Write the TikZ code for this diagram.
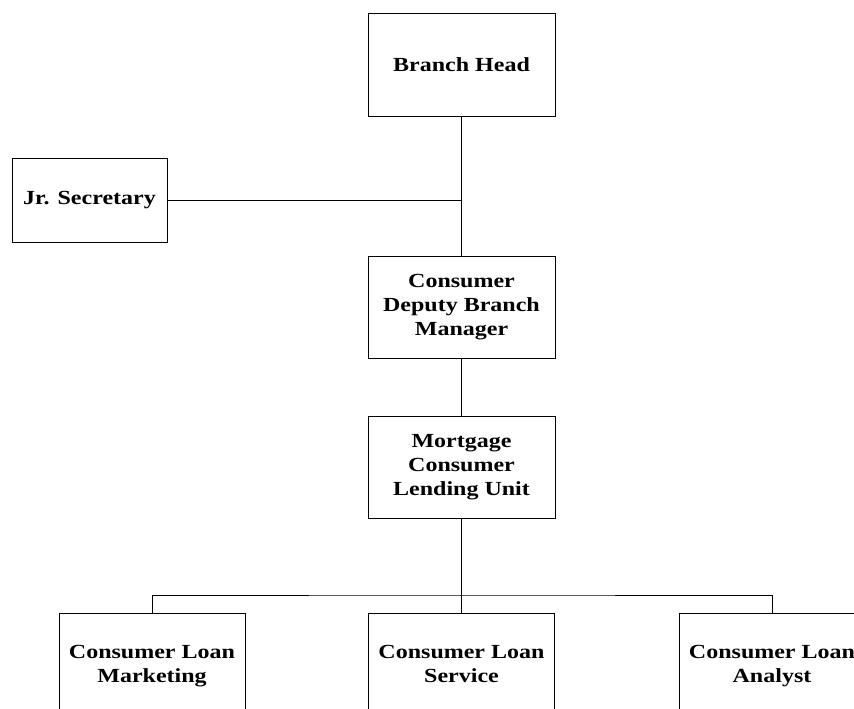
\documentclass[tikz,border=0pt]{standalone}
\usepackage{fontspec}
\setmainfont{Liberation Serif}[FakeStretch=1.2]
\begin{document}
\begin{tikzpicture}[x=1pt,y=-1pt,
  box/.style={draw=black,line width=0.9pt,fill=white,align=center,inner sep=0pt,
    font=\fontsize{20}{24}\selectfont\bfseries},
  conn/.style={draw=black,line width=0.9pt}]
\useasboundingbox (0,0) rectangle (854,709);
\clip (0,0) rectangle (854,709);
\fill[white] (0,0) rectangle (854,709);
\node[box,minimum width=187pt,minimum height=103pt] (bh) at (461.5,64.5) {Branch Head};
\node[box,minimum width=155pt,minimum height=84pt] (js) at (89.5,200) {Jr. Secretary};
\node[box,minimum width=187pt,minimum height=102pt] (dm) at (461.5,307) {Consumer\\Deputy Branch\\Manager};
\node[box,minimum width=187pt,minimum height=102pt] (mc) at (461.5,467) {Mortgage\\Consumer\\Lending Unit};
\node[box,minimum width=186pt,minimum height=106pt] (b1) at (152,666) {Consumer Loan\\Marketing};
\node[box,minimum width=186pt,minimum height=106pt] (b2) at (461.5,666) {Consumer Loan\\Service\vphantom{g}};
\node[box,minimum width=186pt,minimum height=106pt] (b3) at (772,666) {Consumer Loan\\Analyst};
\coordinate (j) at (461.5,595);
\draw[conn] (bh.south) -- (dm.north);
\draw[conn] (js.east) -- (js.east -| bh.south);
\draw[conn] (dm.south) -- (mc.north);
\draw[conn] (mc.south) -- (j);
\draw[conn] (b1.north) |- (j) -| (b3.north);
\draw[conn] (j) -- (b2.north);
\end{tikzpicture}
\end{document}
